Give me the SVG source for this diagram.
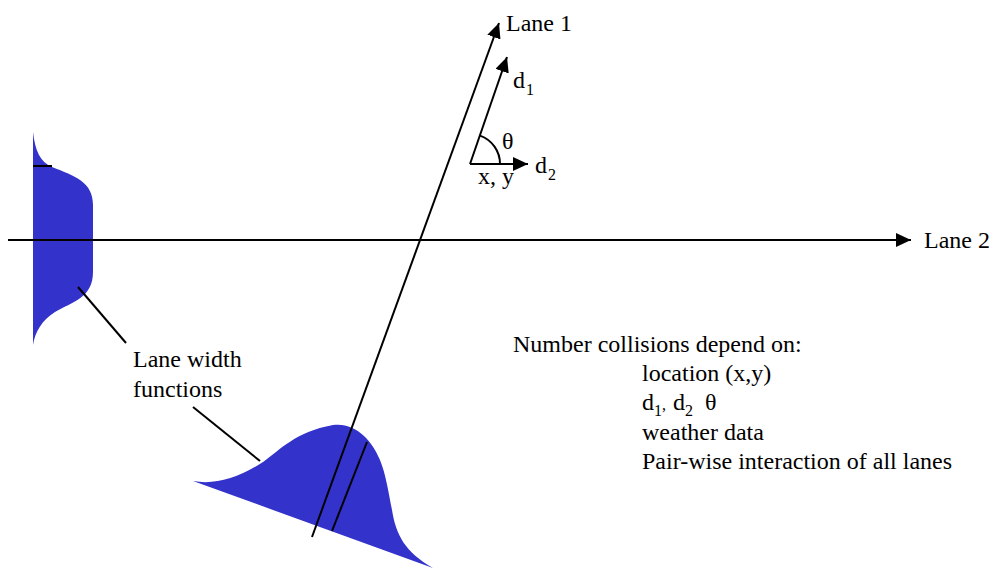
<svg xmlns="http://www.w3.org/2000/svg" width="989" height="569" viewBox="0 0 989 569">
<style>
.t{font-family:"Liberation Serif","Times New Roman",serif;font-size:24px;fill:#000}
.s{font-size:16px}
.ln{stroke:#000;stroke-width:2;fill:none}
.blue{fill:#3333cc;stroke:none}
</style>
<defs>
<marker id="ah" markerUnits="userSpaceOnUse" markerWidth="16" markerHeight="14" refX="15" refY="7" orient="auto">
<path d="M0,0 L15,7 L0,14 Z" fill="#000"/>
</marker>
</defs>
<rect width="989" height="569" fill="#fff"/>
<g id="left-width-function">
<path class="blue" d="M33,132 C35,150 40,162 52,167 C75,176 93,182 93,205 L93,272 C93,298 72,302 55,312 C42,320 35,332 33,345 Z"/>
<line class="ln" x1="33" y1="166" x2="52" y2="166"/>
</g>
<g id="bottom-width-function">
<path class="blue" d="M193,481 Q225,487 263,462 C280,450 295,432 333,425 C355,422 372,440 380,460 C386,475 388,490 392,510 C396,535 405,552 433,568 Z"/>
<line class="ln" x1="332" y1="531" x2="367" y2="442"/>
</g>
<g id="connectors">
<line class="ln" x1="8" y1="240" x2="911" y2="240" marker-end="url(#ah)"/>
<line class="ln" x1="312" y1="537" x2="499" y2="23" marker-end="url(#ah)"/>
<line class="ln" x1="470" y1="164" x2="507" y2="57" marker-end="url(#ah)"/>
<line class="ln" x1="470" y1="164" x2="528" y2="164" marker-end="url(#ah)"/>
<path class="ln" d="M480,135.6 A30,30 0 0 1 500,164"/>
<line class="ln" x1="78" y1="287" x2="126" y2="343"/>
<line class="ln" x1="193" y1="407" x2="260" y2="461"/>
</g>
<g id="labels">
<text class="t" x="506" y="31">Lane 1</text>
<text class="t" x="924" y="248">Lane 2</text>
<text class="t" x="513" y="88">d</text><text class="t s" x="526" y="95">1</text>
<text class="t" x="502" y="149">θ</text>
<text class="t" x="535" y="173">d</text><text class="t s" x="548" y="180">2</text>
<text class="t" x="478" y="184">x, y</text>
<text class="t" x="133" y="367">Lane width</text>
<text class="t" x="133" y="397">functions</text>
<text class="t" x="513" y="352">Number collisions depend on:</text>
<text class="t" x="642" y="381">location (x,y)</text>
<text class="t" x="642" y="410">d<tspan class="s" dy="6">1</tspan><tspan class="s" dy="-6">,</tspan><tspan x="673">d</tspan><tspan class="s" dy="6">2</tspan><tspan dy="-6" x="705">θ</tspan></text>
<text class="t" x="642" y="440">weather data</text>
<text class="t" x="642" y="469">Pair-wise interaction of all lanes</text>
</g>
</svg>
